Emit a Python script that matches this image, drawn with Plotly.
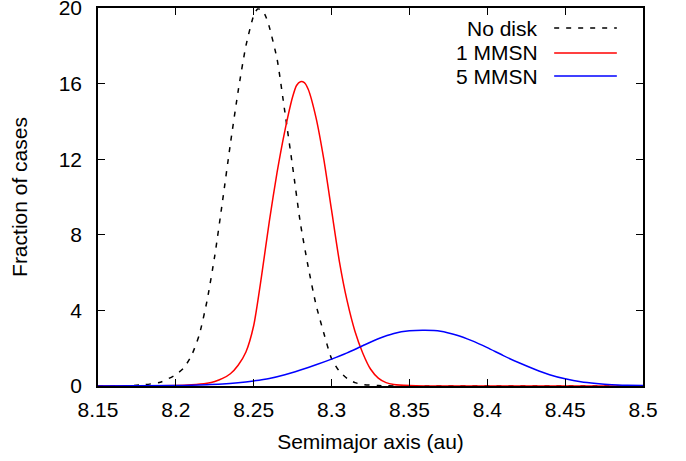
import plotly.graph_objects as go

# No disk
x_nodisk = [8.15, 8.17, 8.18, 8.19, 8.195, 8.2, 8.205, 8.21, 8.215, 8.22, 8.225, 8.23, 8.235,
            8.24, 8.245, 8.25, 8.2525, 8.255, 8.2575, 8.26, 8.265, 8.27, 8.275, 8.28, 8.285,
            8.29, 8.295, 8.3, 8.305, 8.31, 8.315, 8.32, 8.33, 8.35, 8.5]
y_nodisk = [0.0, 0.02, 0.07, 0.2, 0.38, 0.6, 0.95, 1.6, 2.7, 4.5, 6.9, 9.8, 12.8,
            15.6, 18.0, 19.6, 19.95, 19.9, 19.6, 19.0, 17.3, 14.5, 11.6, 8.6, 6.3,
            4.3, 2.8, 1.45, 0.78, 0.4, 0.18, 0.08, 0.02, 0.0, 0.0]

# 1 MMSN
x_1mmsn = [8.15, 8.2, 8.21, 8.22, 8.225, 8.23, 8.235, 8.24, 8.245, 8.25, 8.255, 8.26, 8.265,
           8.27, 8.275, 8.2775, 8.28, 8.2825, 8.285, 8.29, 8.295, 8.3, 8.305, 8.31, 8.315,
           8.32, 8.325, 8.33, 8.335, 8.34, 8.35, 8.36, 8.5]
y_1mmsn = [0.0, 0.02, 0.06, 0.15, 0.24, 0.4, 0.65, 1.1, 1.8, 3.2, 5.8, 8.7, 11.3,
           13.5, 15.3, 15.9, 16.1, 16.05, 15.7, 14.2, 12.0, 9.3, 6.6, 4.5, 2.9,
           1.75, 0.9, 0.42, 0.18, 0.08, 0.02, 0.0, 0.0]

# 5 MMSN
x_5mmsn = [8.15, 8.2, 8.21, 8.22, 8.23, 8.24, 8.25, 8.26, 8.27, 8.28, 8.29, 8.3, 8.31, 8.32,
           8.33, 8.34, 8.35, 8.36, 8.37, 8.38, 8.39, 8.4, 8.41, 8.42, 8.43, 8.44, 8.45,
           8.46, 8.47, 8.48, 8.49, 8.5]
y_5mmsn = [0.0, 0.02, 0.04, 0.07, 0.1, 0.17, 0.27, 0.4, 0.6, 0.85, 1.12, 1.42, 1.75, 2.13,
           2.5, 2.78, 2.92, 2.95, 2.9, 2.7, 2.4, 2.03, 1.62, 1.24, 0.9, 0.6, 0.38,
           0.22, 0.13, 0.07, 0.04, 0.02]

series_names = ["No disk", "1 MMSN", "5 MMSN"]
x_ticks = [8.15, 8.2, 8.25, 8.3, 8.35, 8.4, 8.45, 8.5]
x_tick_labels = ["8.15", "8.2", "8.25", "8.3", "8.35", "8.4", "8.45", "8.5"]
y_ticks = [0, 4, 8, 12, 16, 20]

FONT = "Liberation Sans, Arial, sans-serif"
FS = 21
styles = [dict(color="black", width=1.5, dash="5px,7px"),
          dict(color="#ff0000", width=1.5),
          dict(color="#0000ff", width=1.5)]

fig = go.Figure()
for xs, ys, name, st in zip([x_nodisk, x_1mmsn, x_5mmsn], [y_nodisk, y_1mmsn, y_5mmsn],
                            series_names, styles):
    fig.add_trace(go.Scatter(x=xs, y=ys, mode="lines", name=name,
                             line=dict(shape="spline", smoothing=0.6, **st),
                             showlegend=False, cliponaxis=True))

# gnuplot-style key: text right-aligned, sample line to the right
key_y = [0.947, 0.881, 0.820]
for name, st, ky in zip(series_names, styles, key_y):
    fig.add_annotation(x=0.811, y=ky, xref="paper", yref="paper", text=name,
                       showarrow=False, xanchor="right", yanchor="middle",
                       font=dict(family=FONT, size=FS, color="black"))
    fig.add_shape(type="line", xref="paper", yref="paper", x0=0.837, x1=0.952,
                  y0=ky, y1=ky, line=st)

axis_common = dict(showline=True, linecolor="black", linewidth=1.5, mirror="ticks",
                   ticks="inside", ticklen=7, tickwidth=1, tickcolor="black",
                   showgrid=False, zeroline=False, automargin=False,
                   ticklabeloverflow="allow",
                   tickfont=dict(family=FONT, size=FS, color="black"))

fig.update_xaxes(range=[8.15, 8.5], tickvals=x_ticks, ticktext=x_tick_labels,
                 ticklabelstandoff=4,
                 title=dict(text="Semimajor axis (au)", font=dict(family=FONT, size=FS, color="black"),
                            standoff=14),
                 **axis_common)
fig.update_yaxes(range=[0, 20], tickvals=y_ticks, ticklabelstandoff=10,
                 title=dict(text="Fraction of cases", font=dict(family=FONT, size=FS, color="black"),
                            standoff=25),
                 **axis_common)

fig.update_layout(width=686, height=461, margin=dict(l=98, r=43, t=8, b=75),
                  paper_bgcolor="white", plot_bgcolor="white",
                  font=dict(family=FONT, color="black"))

fig.write_html("out.html", config={"displayModeBar": False},
               post_script="document.body.style.margin='0';document.body.style.overflow='hidden';")
